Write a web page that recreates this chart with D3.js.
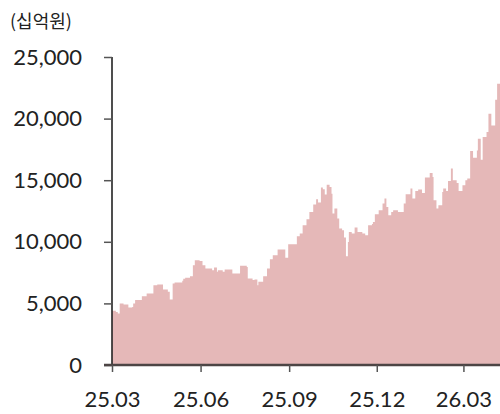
<!DOCTYPE html>
<html><head><meta charset="utf-8">
<script src="https://cdn.jsdelivr.net/npm/d3@7"></script>
<style>
html,body{margin:0;padding:0;background:#fff;}
svg{display:block;}
</style></head>
<body>
<svg id="c" width="500" height="414"></svg>
<script>
const unitLabel = "(십억원)";
const dates = ["2025-03-01","2025-03-05","2025-03-07","2025-03-09","2025-03-13","2025-03-18","2025-03-22","2025-03-23","2025-03-25","2025-04-01","2025-04-06","2025-04-13","2025-04-17","2025-04-23","2025-04-28","2025-04-30","2025-05-03","2025-05-05","2025-05-13","2025-05-14","2025-05-16","2025-05-21","2025-05-24","2025-05-26","2025-05-31","2025-06-03","2025-06-06","2025-06-13","2025-06-15","2025-06-18","2025-06-19","2025-06-24","2025-06-26","2025-07-04","2025-07-12","2025-07-19","2025-07-20","2025-07-25","2025-07-27","2025-07-30","2025-07-31","2025-08-05","2025-08-09","2025-08-12","2025-08-15","2025-08-20","2025-08-26","2025-08-28","2025-08-31","2025-09-05","2025-09-09","2025-09-12","2025-09-15","2025-09-19","2025-09-22","2025-09-26","2025-09-29","2025-10-01","2025-10-04","2025-10-06","2025-10-08","2025-10-10","2025-10-13","2025-10-15","2025-10-16","2025-10-18","2025-10-21","2025-10-23","2025-10-26","2025-10-28","2025-10-30","2025-11-01","2025-11-02","2025-11-05","2025-11-08","2025-11-11","2025-11-16","2025-11-19","2025-11-22","2025-11-26","2025-11-27","2025-11-29","2025-12-03","2025-12-07","2025-12-09","2025-12-11","2025-12-13","2025-12-16","2025-12-18","2025-12-23","2025-12-29","2025-12-31","2026-01-05","2026-01-07","2026-01-10","2026-01-13","2026-01-17","2026-01-20","2026-01-25","2026-01-28","2026-01-29","2026-02-01","2026-02-03","2026-02-07","2026-02-08","2026-02-11","2026-02-13","2026-02-16","2026-02-18","2026-02-22","2026-02-24","2026-02-28","2026-03-03","2026-03-05","2026-03-08","2026-03-11","2026-03-15","2026-03-16","2026-03-19","2026-03-21","2026-03-25","2026-03-27","2026-03-30","2026-04-03","2026-04-05","2026-04-08"];
const values = [4400,4300,4190,5000,4920,4675,4700,5000,5270,5590,5810,6480,6540,6130,5940,5320,6620,6700,6830,7000,7080,7210,8100,8510,8450,8100,7840,7700,7920,7560,7700,7560,7750,7430,8050,7950,7030,6890,6950,6480,6750,7210,7830,8590,8910,9370,9370,8700,9800,9800,10450,10670,11350,11830,12420,13020,13450,13180,14400,14260,13830,14640,14450,13900,12300,12700,11890,11080,10940,10350,8830,9990,10800,10670,11160,10800,10670,10540,11350,11450,11610,12240,12560,13100,13510,12830,12160,12420,12560,12420,13100,13860,14320,13510,14130,14240,13970,15210,15590,15260,13370,12700,12970,14050,14320,14130,14940,15940,14990,14780,14130,14590,14990,15130,17370,16830,17420,18370,16670,18500,18910,20400,19450,21530,22830,22900];
const yTicks = [0,5000,10000,15000,20000,25000];
const xTickDates = ["2025-03-01","2025-06-01","2025-09-01","2025-12-01","2026-03-01"];
const xTickLabels = ["25.03","25.06","25.09","25.12","26.03"];

const parse = d3.timeParse("%Y-%m-%d");
const data = dates.map((d,i)=>({date:parse(d), value:values[i]}));

const svg = d3.select("#c");
const x = d3.scaleTime().domain([parse("2025-03-01"), parse("2026-04-08")]).range([112, 500]);
const y = d3.scaleLinear().domain([0, 25000]).range([365, 57]);

const area = d3.area().curve(d3.curveStepAfter)
  .x(d=>x(d.date)).y0(y(0)).y1(d=>y(d.value));
svg.append("path").datum(data).attr("d", area).attr("fill", "#e5b8b8");

const font = "Lato, 'Noto Sans', sans-serif";

// y axis
const yAxis = svg.append("g").attr("transform","translate(112,0)")
  .call(d3.axisLeft(y).tickValues(yTicks).tickFormat(d3.format(",")).tickSize(8).tickPadding(22));
yAxis.select(".domain").attr("stroke","#222").attr("stroke-width",1.6).attr("d","M0,57V365");
yAxis.selectAll(".tick line").attr("stroke","#555").attr("stroke-width",1.5);
yAxis.selectAll(".tick text").attr("fill","#222").style("font-family",font).style("font-size","22px");

// x axis
const xAxis = svg.append("g").attr("transform","translate(0,365)")
  .call(d3.axisBottom(x).tickValues(xTickDates.map(parse)).tickFormat((d,i)=>xTickLabels[i]).tickSize(7).tickPadding(19));
xAxis.select(".domain").attr("stroke","#4d4545").attr("stroke-width",2.5).attr("d","M104,0H500");
xAxis.selectAll(".tick line").attr("stroke","#555").attr("stroke-width",1.5);
xAxis.selectAll(".tick text").attr("fill","#222").style("font-family",font).style("font-size","22px");

svg.append("text").attr("x",10).attr("y",28).text(unitLabel)
  .attr("fill","#222").style("font-family","'Noto Sans CJK KR', sans-serif").style("font-size","18px");
</script>
</body></html>
